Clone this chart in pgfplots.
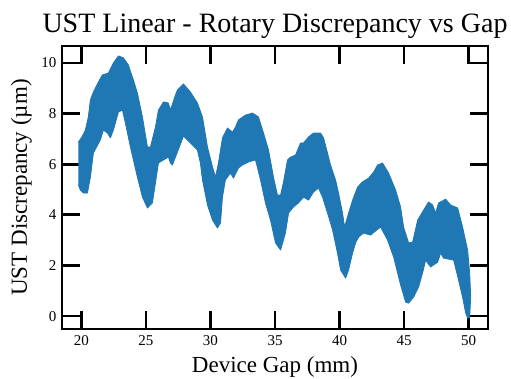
\documentclass[border=0pt]{standalone}
\usepackage{pgfplots}
\pgfplotsset{compat=1.18}
\usepackage{fontspec}
\setmainfont{Liberation Serif}
\definecolor{mplblue}{HTML}{1F77B4}
\begin{document}
\begin{tikzpicture}
\begin{axis}[
  name=ax,
  scale only axis,
  width=426pt, height=283pt,
  xmin=18.5, xmax=51.5,
  ymin=-0.51, ymax=10.67,
  xtick={20,25,30,35,40,45,50},
  ytick={0,2,4,6,8,10},
  tick align=inside,
  xtick pos=both, ytick pos=both,
  major tick length=18pt,
  every tick/.style={black, line width=2.8pt},
  axis line style={black, line width=2.8pt},
  /pgf/number format/assume math mode=true,
  ticklabel style={font=\fontsize{15}{18}\selectfont},
  xticklabel style={yshift=-3pt},
  yticklabel style={xshift=-2pt},
  every axis x label/.style={at={(axis description cs:0.5,0)}, anchor=base, yshift=-43pt},
  every axis y label/.style={at={(axis description cs:0,0.5)}, rotate=90, anchor=base, yshift=35pt},
  label style={font=\fontsize{23}{27}\selectfont},
  xlabel={Device Gap (mm)},
  ylabel={UST Discrepancy (µm)},
]
\addplot[fill=mplblue, draw=mplblue, line width=0.8pt, line join=round] coordinates {
(19.77,6.88) (20.05,7.08) (20.31,7.35) (20.54,7.87) (20.70,8.54) (20.93,8.85)
(21.32,9.25) (21.63,9.53) (22.09,9.60) (22.48,10.00) (22.87,10.28) (23.26,10.20)
(23.64,9.92) (24.03,9.33) (24.34,8.81) (24.73,7.87) (25.12,6.68) (25.35,6.68)
(25.74,7.47) (25.97,8.14) (26.36,8.46) (26.74,8.42) (26.90,8.14) (27.29,8.74)
(27.44,8.93) (27.91,9.17) (28.45,8.85) (28.99,8.42) (29.38,7.87) (29.77,6.68)
(30.16,5.89) (30.39,5.49) (30.62,6.05) (30.93,7.04) (31.32,7.43) (31.71,7.27)
(31.94,7.47) (32.17,7.75) (32.71,7.94) (33.26,8.02) (33.72,7.87) (34.11,7.23)
(34.50,6.56) (34.88,5.49) (35.19,4.78) (35.43,4.78) (35.66,5.30) (35.97,6.17)
(36.20,6.28) (36.59,6.36) (36.98,6.84) (37.21,6.84) (37.60,7.08) (37.98,7.23)
(38.53,7.23) (38.76,7.04) (39.07,6.44) (39.30,5.97) (39.69,5.38) (39.92,4.86)
(40.23,4.07) (40.39,3.52) (40.70,4.07) (41.01,4.58) (41.40,5.10) (41.78,5.30)
(42.25,5.45) (42.64,5.69) (42.95,5.97) (43.33,6.05) (43.80,5.65) (44.34,4.98)
(44.73,4.31) (44.96,3.52) (45.35,2.89) (45.66,2.92) (46.05,3.79) (46.51,4.19)
(46.90,4.51) (47.21,4.39) (47.44,4.07) (47.67,4.47) (48.22,4.62) (48.60,4.39)
(49.15,4.27) (49.53,3.52) (49.92,2.61) (50.08,1.70) (50.16,0.75) (50.08,-0.04)
(49.92,-0.08) (49.77,0.12) (49.53,0.75) (49.22,1.42) (48.84,2.21) (48.06,2.29)
(47.83,2.49) (47.60,2.13) (47.05,1.94) (46.67,2.21) (46.43,1.70) (46.12,1.15)
(45.74,0.75) (45.35,0.51) (45.12,0.55) (44.73,1.23) (44.19,2.33) (43.72,3.00)
(43.18,3.52) (42.40,3.20) (41.86,3.28) (41.47,3.12) (41.24,2.89) (41.01,2.49)
(40.70,1.82) (40.47,1.50) (40.08,1.82) (39.84,2.49) (39.46,3.40) (39.07,4.07)
(38.68,4.70) (38.37,5.06) (37.98,4.90) (37.60,4.58) (37.21,4.70) (36.82,4.47)
(36.43,4.31) (36.05,4.07) (35.81,3.28) (35.43,2.61) (35.04,2.89) (34.65,3.79)
(34.26,4.47) (33.88,5.38) (33.49,6.17) (32.95,6.09) (32.48,5.97) (32.17,5.85)
(31.78,5.45) (31.55,5.65) (31.16,5.38) (30.93,4.70) (30.78,3.68) (30.54,3.48)
(30.16,3.79) (29.77,4.39) (29.38,5.38) (29.22,6.05) (28.99,6.56) (28.45,6.84)
(27.91,7.11) (27.44,6.48) (27.05,5.97) (26.90,6.05) (26.74,6.28) (26.36,6.17)
(25.97,6.05) (25.74,5.26) (25.50,4.47) (25.12,4.27) (24.73,4.70) (24.34,5.49)
(23.80,6.68) (23.41,7.63) (23.18,8.14) (22.87,8.06) (22.48,7.35) (22.25,7.04)
(22.02,7.23) (21.71,7.35) (21.47,6.96) (20.93,6.44) (20.70,5.49) (20.47,4.86)
(20.16,4.86) (19.92,4.98) (19.77,5.18)
};
\end{axis}
\node[anchor=base, font=\fontsize{28}{33}\selectfont] at ([yshift=13pt]ax.north) {UST Linear - Rotary Discrepancy vs Gap};
\pgfresetboundingbox
\path[use as bounding box] ([xshift=-62pt,yshift=-49pt]ax.south west) rectangle ([xshift=23pt,yshift=46pt]ax.north east);
\end{tikzpicture}
\end{document}
